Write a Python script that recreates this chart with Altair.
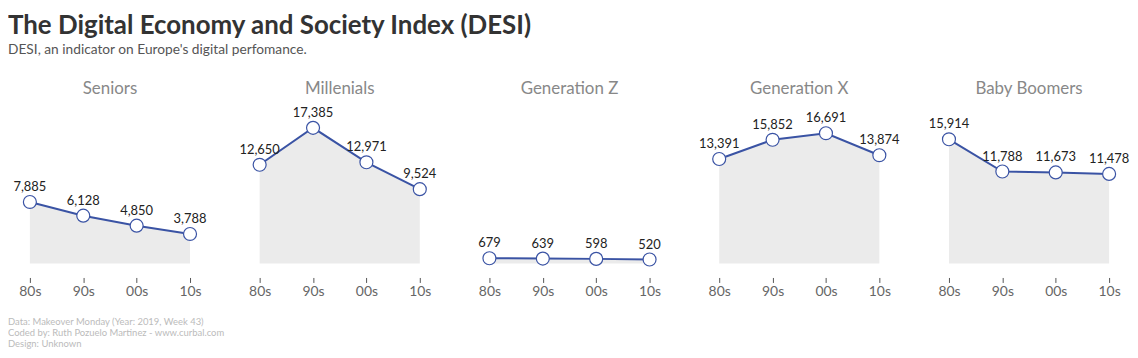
import altair as alt
import pandas as pd

groups = ["Seniors", "Millenials", "Generation Z", "Generation X", "Baby Boomers"]
decades = ["80s", "90s", "00s", "10s"]
seniors = [7885, 6128, 4850, 3788]
millenials = [12650, 17385, 12971, 9524]
gen_z = [679, 639, 598, 520]
gen_x = [13391, 15852, 16691, 13874]
boomers = [15914, 11788, 11673, 11478]
footer_lines = [
    "Data: Makeover Monday (Year: 2019, Week 43)",
    "Coded by: Ruth Pozuelo Martinez - www.curbal.com",
    "Design: Unknown",
]

series = [seniors, millenials, gen_z, gen_x, boomers]
rows = []
for g, vals in zip(groups, series):
    for d, v in zip(decades, vals):
        rows.append({"group": g, "decade": d, "value": v})
df = pd.DataFrame(rows)

FONT = "Lato"

x = alt.X("decade:N", sort=decades,
          scale=alt.Scale(type="point", padding=0),
          axis=alt.Axis(title=None, labelAngle=0, domain=False, ticks=True, tickSize=5,
                        tickColor="#555", offset=14, labelPadding=2, labelFontSize=14,
                        labelColor="#666", labelFont=FONT))
y = alt.Y("value:Q", scale=alt.Scale(domain=[0, 20000], nice=False),
          axis=alt.Axis(title=None, labels=False, ticks=False, domain=False, grid=False,
                        minExtent=22, maxExtent=22))

base = alt.Chart()
area = base.mark_area(color="#ebebeb").encode(x=x, y=y)
line = base.mark_line(color="#3a53a4", strokeWidth=2).encode(x=x, y=y)
pts = base.mark_point(filled=True, fill="white", stroke="#3a53a4", strokeWidth=1.2,
                      size=170, opacity=1).encode(x=x, y=y)
labels = base.mark_text(dy=-15, fontSize=13, color="#222", font=FONT).encode(
    x=x, y=y, text=alt.Text("value:Q", format=","))

facet = alt.layer(area, line, pts, labels, data=df).properties(
    width=161, height=157
).facet(
    column=alt.Column("group:N", sort=groups,
                      header=alt.Header(title=None, labelFontSize=17, labelColor="#888",
                                        labelFont=FONT, labelPadding=9)),
    spacing=70,
    bounds="flush",
)

fdf = pd.DataFrame({"line": footer_lines, "i": [0, 1, 2]})
footer = alt.Chart(fdf).mark_text(align="left", baseline="middle", fontSize=9.5,
                                  color="#bbb", font=FONT).encode(
    x=alt.value(-22),
    y=alt.Y("i:O", axis=None, scale=alt.Scale(paddingOuter=0.5)),
    text="line:N",
).properties(width=300, height=33)

chart = alt.vconcat(facet, footer, spacing=18).properties(
    title=alt.TitleParams(
        "The Digital Economy and Society Index (DESI)",
        subtitle="DESI, an indicator on Europe's digital perfomance.",
        anchor="start", fontSize=26, font=FONT, fontWeight="bold", color="#333",
        subtitleFontSize=13.8, subtitleColor="#555", subtitleFont=FONT,
        offset=24, subtitlePadding=4,
    ),
    padding={"left": 0, "top": 4, "right": 0, "bottom": 0},
).configure_view(stroke=None)

chart.save("out.html", embed_options={"renderer": "svg", "actions": False})
